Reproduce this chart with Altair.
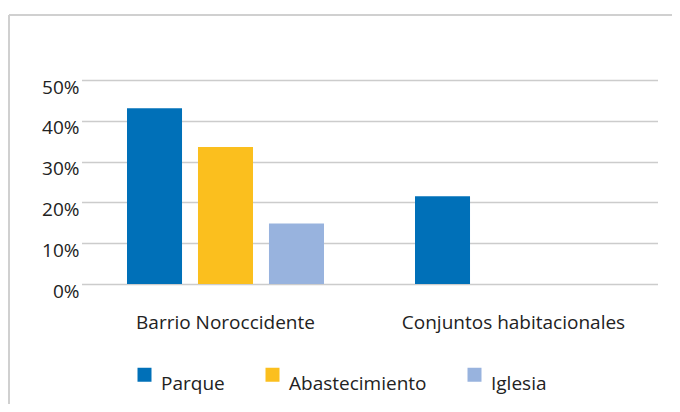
import altair as alt
import pandas as pd

categories = ["Barrio Noroccidente", "Conjuntos habitacionales"]
series = ["Parque", "Abastecimiento", "Iglesia"]
colors = ["#0070b8", "#fbbf1e", "#98b3de"]
values_barrio = [0.431, 0.336, 0.148]
values_conjuntos = [0.215, 0.0, 0.0]
y_ticks = [0, 0.1, 0.2, 0.3, 0.4, 0.5]

rows = []
for s, v in zip(series, values_barrio):
    rows.append({"categoria": categories[0], "serie": s, "valor": v})
for s, v in zip(series, values_conjuntos):
    rows.append({"categoria": categories[1], "serie": s, "valor": v})
df = pd.DataFrame(rows)

FONT = "Open Sans"
TXT = "#222222"
FS = 19

bars = alt.Chart(df).mark_bar().encode(
    x=alt.X("categoria:N", sort=categories,
            scale=alt.Scale(range=[-7.5, 568.5], paddingInner=0, paddingOuter=0),
            axis=alt.Axis(title=None, labelAngle=0, domain=False, ticks=False, tickSize=0,
                          labelPadding=44, labelBaseline="alphabetic", labelLimit=400,
                          labelFontSize=FS, labelFont=FONT, labelColor=TXT, grid=False)),
    xOffset=alt.XOffset("serie:N", sort=series,
                        scale=alt.Scale(paddingInner=0.225, paddingOuter=0.641)),
    y=alt.Y("valor:Q", scale=alt.Scale(domain=[0, 0.5], nice=False),
            axis=alt.Axis(title=None, values=y_ticks, format=".0%", domain=False, ticks=False,
                          tickSize=0, labelPadding=10, labelBaseline="middle", labelOffset=7,
                          labelFontSize=FS, labelFont=FONT, labelColor=TXT,
                          grid=True, gridColor="#cccccc", gridWidth=1.5)),
    color=alt.Color("serie:N", sort=series,
                    scale=alt.Scale(domain=series, range=colors),
                    legend=alt.Legend(title=None, orient="none", legendX=46, legendY=285,
                                      direction="horizontal", symbolType="square",
                                      symbolSize=196, symbolStrokeWidth=0, labelOffset=7,
                                      columnPadding=38, labelFontSize=FS, labelFont=FONT,
                                      labelColor=TXT, labelBaseline="top", padding=0)),
)

one = alt.Data(values=[{"k": 1}])
border_top = alt.Chart(one).mark_rule(color="#d0d0d0", strokeWidth=2).encode(
    x=alt.value(-80), x2=alt.value(583), y=alt.value(-65))
border_left = alt.Chart(one).mark_rule(color="#d0d0d0", strokeWidth=2).encode(
    x=alt.value(-80), y=alt.value(-65), y2=alt.value(324))

chart = alt.layer(bars, border_top, border_left).properties(
    width=565, height=204,
    padding={"left": 81, "top": 72, "right": 18, "bottom": 120},
    autosize=alt.AutoSizeParams(type="none"),
).configure_view(stroke=None)

chart.save("out.html", embed_options={"renderer": "svg", "actions": False})
